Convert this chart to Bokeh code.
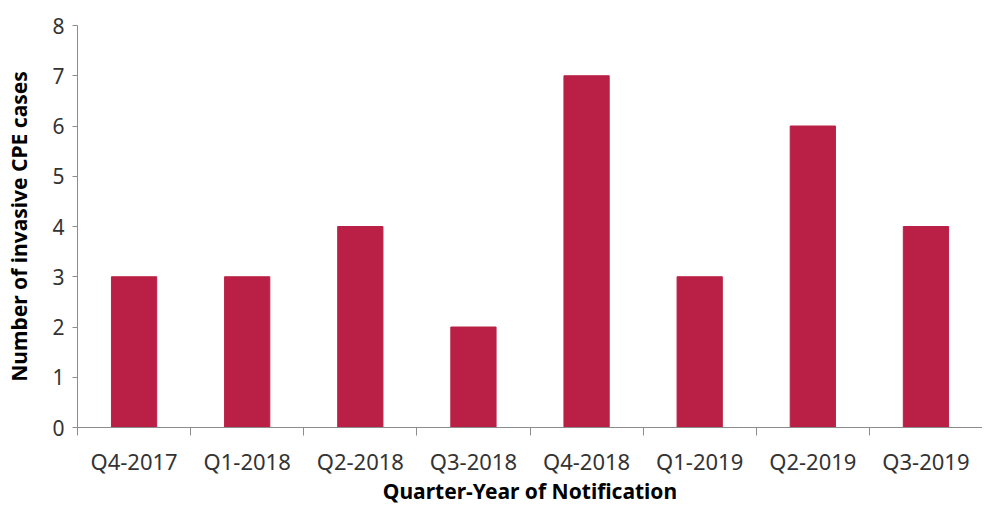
from bokeh.plotting import figure
from bokeh.models import ColumnDataSource, FixedTicker, Range1d
from bokeh.embed import file_html
from bokeh.resources import INLINE

quarters = ["Q4-2017", "Q1-2018", "Q2-2018", "Q3-2018", "Q4-2018", "Q1-2019", "Q2-2019", "Q3-2019"]
cases = [3, 3, 4, 2, 7, 3, 6, 4]
y_ticks = [0, 1, 2, 3, 4, 5, 6, 7, 8]
x_title = "Quarter-Year of Notification"
y_title = "Number of invasive CPE cases"

xpos = [i + 0.5 for i in range(len(quarters))]
src = ColumnDataSource(dict(x=xpos, top=cases, q=quarters))

p = figure(width=982, height=507, output_backend="svg", toolbar_location=None,
           x_range=Range1d(0, len(quarters)), y_range=Range1d(0, 8),
           min_border_left=77, min_border_right=0, min_border_top=25, min_border_bottom=79)
p.outline_line_color = None
p.xgrid.visible = False
p.ygrid.visible = False
p.background_fill_color = "white"
p.border_fill_color = "white"

p.vbar(x="x", top="top", width=0.4, bottom=0, source=src, color="#BA2045")

font = "Noto Sans"
axis_col = "#8C8C8C"
text_col = "#333333"

# x axis
xa = p.xaxis[0]
xa.ticker = FixedTicker(ticks=xpos, minor_ticks=list(range(len(quarters) + 1)))
xa.major_label_overrides = {x: q for x, q in zip(xpos, quarters)}
xa.major_tick_line_alpha = 0
xa.major_tick_out = 0
xa.major_tick_in = 0
xa.minor_tick_out = 8
xa.minor_tick_in = 0
xa.minor_tick_line_color = axis_col
xa.axis_line_color = axis_col
xa.major_label_standoff = 10
xa.major_label_text_font = font
xa.major_label_text_font_size = "22px"
xa.major_label_text_color = text_col
xa.axis_label = x_title
xa.axis_label_text_font = font
xa.axis_label_text_font_style = "bold"
xa.axis_label_text_font_size = "21px"
xa.axis_label_text_color = "#000000"
xa.axis_label_standoff = -2

# y axis
ya = p.yaxis[0]
ya.ticker = FixedTicker(ticks=y_ticks, minor_ticks=[])
ya.major_tick_out = 5
ya.major_tick_in = 0
ya.major_tick_line_color = axis_col
ya.axis_line_color = axis_col
ya.major_label_standoff = 8
ya.major_label_text_font = font
ya.major_label_text_font_size = "21px"
ya.major_label_text_color = text_col
ya.axis_label = y_title
ya.axis_label_text_font = font
ya.axis_label_text_font_style = "bold"
ya.axis_label_text_font_size = "21px"
ya.axis_label_text_color = "#000000"
ya.axis_label_standoff = 16

open("out.html", "w").write(file_html(p, INLINE))
